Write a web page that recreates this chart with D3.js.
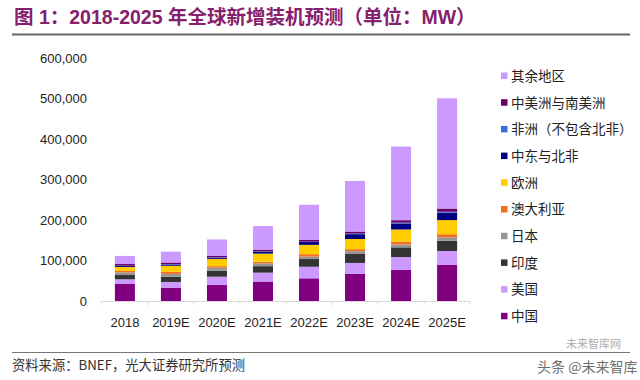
<!DOCTYPE html>
<html><head><meta charset="utf-8">
<script src="https://cdn.jsdelivr.net/npm/d3@7"></script>
<style>
html,body{margin:0;padding:0;background:#fff;}
svg{display:block;}
</style></head>
<body>
<svg id="chart" width="640" height="380"></svg>
<script>
const categories = ["2018","2019E","2020E","2021E","2022E","2023E","2024E","2025E"];
const seriesNames = ["中国","美国","印度","日本","澳大利亚","欧洲","中东与北非","非洲（不包含北非）","中美洲与南美洲","其余地区"];
const china      = [43000, 33000, 40000, 48000, 56000, 67000, 76500, 89000];
const usa        = [10600, 14000, 20000, 22000, 28600, 27000, 32000, 34500];
const india      = [10500, 13000, 15000, 16000, 19000, 22000, 24000, 25500];
const japan      = [6500, 7000, 7000, 7000, 6000, 7000, 7000, 8400];
const australia  = [3500, 5000, 4000, 4000, 6000, 5000, 7000, 7400];
const europe     = [10000, 15000, 18000, 20000, 23000, 25000, 30000, 35000];
const mena       = [2500, 3000, 3000, 5000, 7000, 12000, 15000, 18000];
const africa     = [700, 1000, 1000, 1000, 1000, 1500, 2000, 2500];
const latam      = [4000, 4000, 4000, 4000, 4000, 5000, 6000, 8000];
const rest       = [20000, 27000, 40000, 58000, 87000, 125000, 182000, 272000];
const yTicks = [0, 100000, 200000, 300000, 400000, 500000, 600000];
const colors = ["#800080","#cc99ff","#333333","#969696","#f07020","#ffcc00","#000080","#3a6fd8","#660066","#cc99ff"];

const seriesValues = [china, usa, india, japan, australia, europe, mena, africa, latam, rest];
const rows = categories.map((c, i) => {
  const r = {cat: c};
  seriesNames.forEach((s, k) => r[s] = seriesValues[k][i]);
  return r;
});

const svg = d3.select("#chart");
const cjk = "'Noto Sans CJK SC','Noto Sans',sans-serif";
const latin = "'Liberation Sans',Arial,sans-serif";

// Title
svg.append("text").attr("x", 14).attr("y", 24)
  .attr("font-family", "'Liberation Sans','Noto Sans CJK SC',sans-serif")
  .attr("font-weight", "bold").attr("font-size", 19.5).attr("fill", "#86206d")
  .text("图 1：2018-2025 年全球新增装机预测（单位：MW）");
svg.append("line").attr("x1", 12).attr("x2", 630).attr("y1", 34.5).attr("y2", 34.5)
  .attr("stroke", "#666").attr("stroke-width", 2);

const x = d3.scaleBand().domain(categories).range([102, 470]).paddingInner(0.565).paddingOuter(0.28);
const y = d3.scaleLinear().domain([0, 600000]).range([301, 58]);

const stack = d3.stack().keys(seriesNames);
const layers = stack(rows);

svg.append("g").selectAll("g").data(layers).join("g")
  .attr("fill", (d, i) => colors[i])
  .selectAll("rect").data(d => d).join("rect")
  .attr("x", d => x(d.data.cat))
  .attr("width", x.bandwidth())
  .attr("y", d => y(d[1]))
  .attr("height", d => y(d[0]) - y(d[1]));

// Y axis
const yAxis = svg.append("g").attr("transform", "translate(102,0)")
  .call(d3.axisLeft(y).tickValues(yTicks).tickFormat(d3.format(",")).tickSize(0).tickPadding(15));
yAxis.select(".domain").remove();
yAxis.selectAll("text").attr("font-family", latin).attr("font-size", 13).attr("fill", "#222");

// X axis
const xAxis = svg.append("g").attr("transform", "translate(0,301)")
  .call(d3.axisBottom(x).tickSize(0).tickPadding(17).tickSizeOuter(0));
xAxis.select(".domain").attr("stroke", "#d9d9d9");
xAxis.selectAll("text").attr("font-family", latin).attr("font-size", 13).attr("fill", "#222");
const gap = (x.step() - x.bandwidth()) / 2;
const bounds = categories.map(c => x(c) - gap).concat([x(categories[categories.length - 1]) + x.bandwidth() + gap]);
svg.append("g").selectAll("line").data(bounds).join("line")
  .attr("x1", d => d).attr("x2", d => d).attr("y1", 301).attr("y2", 305)
  .attr("stroke", "#d9d9d9");

// Legend
const legendOrder = seriesNames.map((s, i) => ({name: s, color: colors[i]})).reverse();
const lg = svg.append("g").selectAll("g").data(legendOrder).join("g")
  .attr("transform", (d, i) => `translate(501,${76 + i * 26.7})`);
lg.append("rect").attr("x", 0).attr("y", -3.5).attr("width", 6.5).attr("height", 6.5).attr("fill", d => d.color);
lg.append("text").attr("x", 10).attr("y", 0).attr("dy", "0.36em")
  .attr("font-family", cjk).attr("font-size", 13.5).attr("fill", "#222")
  .text(d => d.name);

// Footer
svg.append("line").attr("x1", 12).attr("x2", 630).attr("y1", 352.5).attr("y2", 352.5)
  .attr("stroke", "#777").attr("stroke-width", 1);
svg.append("text").attr("x", 12).attr("y", 370)
  .attr("font-family", cjk).attr("font-size", 13.3).attr("fill", "#333")
  .text("资料来源：BNEF，光大证券研究所预测");
svg.append("text").attr("x", 566).attr("y", 348)
  .attr("font-family", cjk).attr("font-size", 11).attr("fill", "#999").attr("opacity", 0.8)
  .text("未来智库网");
svg.append("text").attr("x", 537).attr("y", 372)
  .attr("font-family", cjk).attr("font-size", 14).attr("fill", "#555").attr("opacity", 0.85)
  .text("头条 @未来智库");
</script>
</body></html>
